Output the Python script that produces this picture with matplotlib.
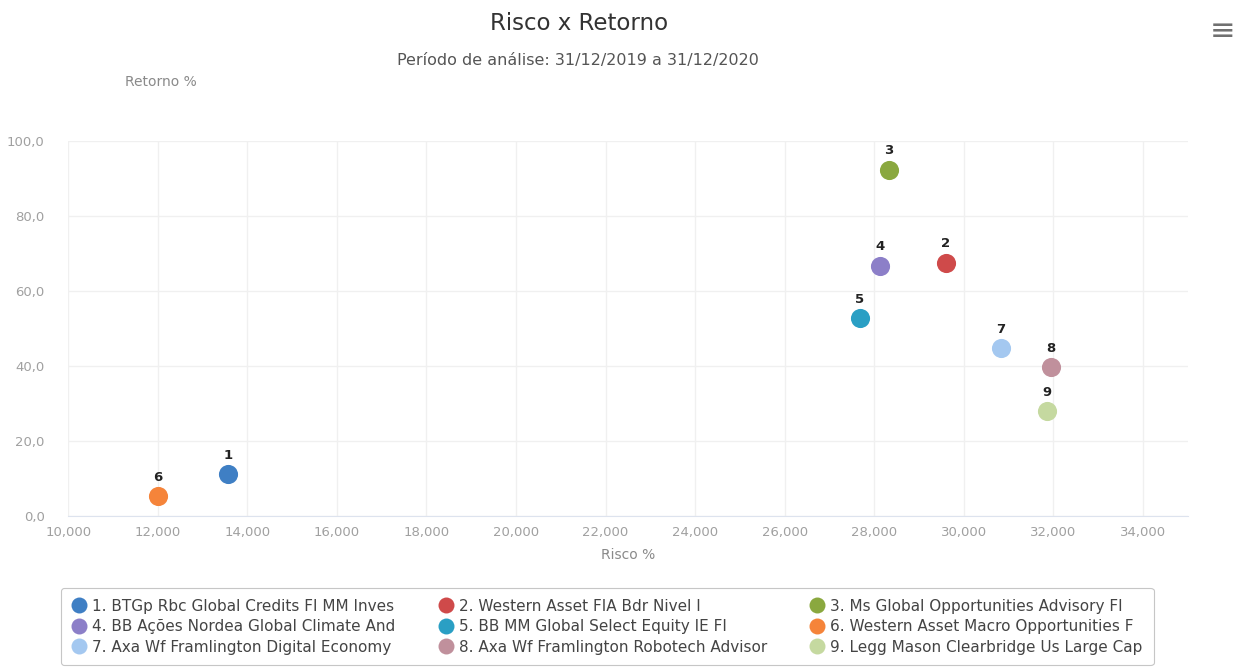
import matplotlib
matplotlib.use("Agg")
from matplotlib import pyplot as plt
from matplotlib.ticker import FuncFormatter, MultipleLocator
from matplotlib.lines import Line2D

plt.rcParams['font.family'] = ['DejaVu Sans']

# data
fund_ids = [1, 2, 3, 4, 5, 6, 7, 8, 9]
fund_names = [
    "BTGp Rbc Global Credits FI MM Inves",
    "Western Asset FIA Bdr Nivel I",
    "Ms Global Opportunities Advisory FI",
    "BB Ações Nordea Global Climate And",
    "BB MM Global Select Equity IE FI",
    "Western Asset Macro Opportunities F",
    "Axa Wf Framlington Digital Economy",
    "Axa Wf Framlington Robotech Advisor",
    "Legg Mason Clearbridge Us Large Cap",
]
risco = [13570, 29600, 28330, 28120, 27680, 12000, 30830, 31940, 31850]
retorno = [11.2, 67.5, 92.3, 66.7, 52.8, 5.3, 44.8, 39.7, 28.0]
colors = ["#3f7fc4", "#cf4a4a", "#8aa83f", "#8c7fc8", "#2a9fc4",
          "#f5843a", "#a4c8f0", "#c0909c", "#c5d9a0"]

fig = plt.figure(figsize=(12.41, 6.69), dpi=100)
ax = fig.add_axes([0.055, 0.2287, 0.902, 0.5605])

for i in range(len(fund_ids)):
    ax.scatter(risco[i], retorno[i], s=190, color=colors[i], zorder=3, linewidths=0)
    ax.annotate(str(fund_ids[i]), (risco[i], retorno[i]), xytext=(0, 9),
                textcoords="offset points", ha="center", va="bottom",
                fontsize=9.5, fontweight="bold", color="#222222")

ax.set_xlim(10000, 35000)
ax.set_ylim(0, 100)
ax.xaxis.set_major_locator(MultipleLocator(2000))
ax.yaxis.set_major_locator(MultipleLocator(20))
ax.xaxis.set_major_formatter(FuncFormatter(lambda v, p: f"{v:,.0f}"))
ax.yaxis.set_major_formatter(FuncFormatter(lambda v, p: f"{v:.1f}".replace(".", ",")))
ax.tick_params(length=0, labelsize=9.5, labelcolor="#a0a0a0")
ax.tick_params(axis="y", pad=17)
ax.tick_params(axis="x", pad=7)

ax.grid(True, color="#f0f0f0", linewidth=1)
ax.set_axisbelow(True)
for s in ["top", "right", "left"]:
    ax.spines[s].set_visible(False)
ax.spines["bottom"].set_color("#dde3ee")

ax.set_xlabel("Risco %", fontsize=10, color="#8a8a8a", labelpad=7)

fig.text(0.467, 0.965, "Risco x Retorno", ha="center", va="center", fontsize=16.5, color="#333333")
fig.text(0.466, 0.91, "Período de análise: 31/12/2019 a 31/12/2020", ha="center", va="center",
         fontsize=11.5, color="#555555")
fig.text(0.13, 0.877, "Retorno %", ha="center", va="center", fontsize=10, color="#8a8a8a")
fig.text(0.985, 0.953, "\u2261", ha="center", va="center", fontsize=22, color="#707070")

handles = [Line2D([], [], marker="o", linestyle="", markersize=11.5, color=c, markeredgewidth=0)
           for c in colors]
labels = [f"{n}. {name}" for n, name in zip(fund_ids, fund_names)]
order = [0, 3, 6, 1, 4, 7, 2, 5, 8]
leg = fig.legend([handles[i] for i in order], [labels[i] for i in order],
                 loc="upper left", bbox_to_anchor=(0.049, 0.121),
                 ncol=3, fontsize=11, frameon=True, handletextpad=0.35,
                 borderpad=0.7, labelspacing=0.36, columnspacing=2.8, handlelength=1.0,
                 borderaxespad=0, fancybox=True)
leg.get_frame().set_edgecolor("#b8b8b8")
leg.get_frame().set_linewidth(0.8)
for t in leg.get_texts():
    t.set_color("#444444")

fig.savefig("out.png", dpi=100)
